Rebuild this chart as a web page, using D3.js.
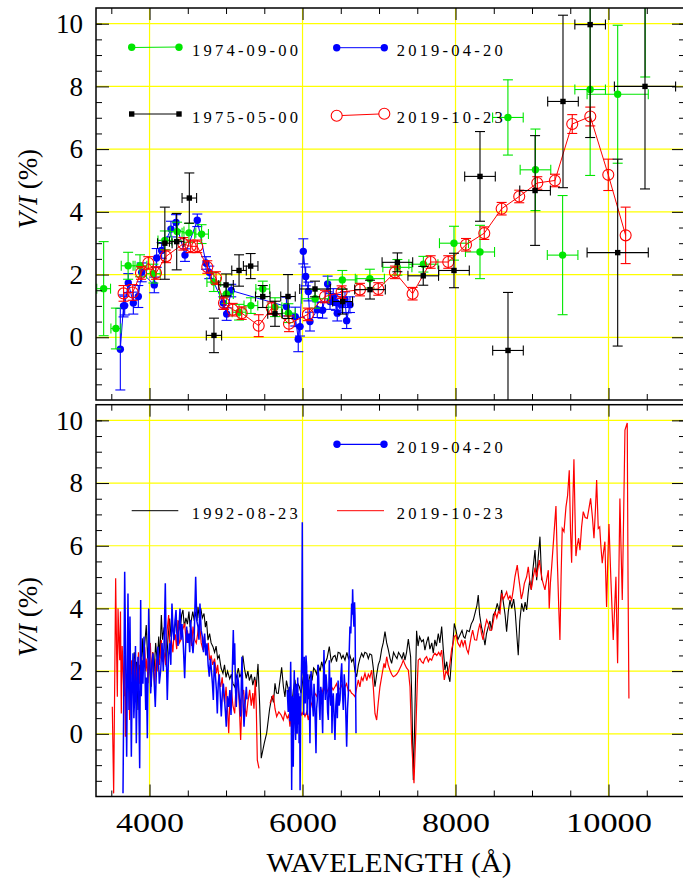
<!DOCTYPE html>
<html>
<head>
<meta charset="utf-8">
<script src="https://cdn.jsdelivr.net/npm/d3@7"></script>
<style>
  body { margin: 0; background: #fff; }
  svg { display: block; }
  text { font-family: 'Liberation Serif', serif; }
</style>
</head>
<body>
<script>

// ---- broadband points (top panel) ----
// 1974-09-00 : wavelength, V/I, err, half-width
var green1974 = [
  [3400, 1.55, 1.5, 90], [3560, 0.28, 0.65, 65], [3720, 2.28, 0.43, 90], [3875, 2.28, 0.35, 90],
  [4050, 2.03, 0.3, 90], [4200, 3.09, 0.3, 90], [4360, 3.37, 0.3, 90], [4515, 3.33, 0.3, 90],
  [4680, 3.29, 0.3, 90], [4840, 1.76, 0.3, 90], [5005, 1.38, 0.3, 90], [5170, 0.80, 0.25, 90],
  [5325, 1.01, 0.25, 90], [5480, 1.54, 0.25, 90], [5640, 0.96, 0.3, 90], [5815, 0.77, 0.3, 90],
  [6165, 1.23, 0.3, 175], [6520, 1.83, 0.3, 190], [6880, 1.87, 0.3, 190], [7240, 2.23, 0.25, 190],
  [7580, 2.33, 0.25, 190], [7980, 3.0, 0.54, 190], [8320, 2.72, 0.85, 190], [8685, 7.01, 1.2, 200],
  [9045, 5.34, 1.3, 200], [9400, 2.62, 1.9, 200], [9760, 7.9, 2.74, 200], [10120, 7.75, 2.2, 400],
  [10480, 11.5, 3.2, 400]
];

// 1975-05-00
var black1975 = [
  [4200, 3.0, 1.15, 95], [4355, 3.05, 0.9, 95], [4520, 4.44, 0.8, 95], [4842, 0.06, 0.55, 100],
  [5000, 1.67, 0.35, 95], [5170, 2.13, 0.5, 95], [5322, 2.27, 0.4, 95], [5480, 1.3, 0.35, 95],
  [5640, 0.75, 0.4, 95], [5810, 1.3, 0.7, 95], [6163, 1.54, 0.25, 200], [6524, 1.14, 0.4, 130],
  [6882, 1.52, 0.3, 200], [7240, 2.39, 0.3, 200], [7578, 1.96, 0.3, 200], [7980, 2.13, 0.55, 200],
  [8320, 5.13, 1.43, 200], [8686, -0.42, 1.85, 200], [9040, 4.68, 1.75, 200], [9405, 7.52, 2.75, 200],
  [9760, 9.97, 3.6, 200], [10120, 2.7, 2.98, 400], [10477, 8.0, 3.27, 400]
];

// 2019-04-20 : wavelength, V/I, err
var blue2019a = [
  [3618, -0.38, 1.3], [3660, 1.0, 0.35], [3675, 1.01, 0.3], [3722, 1.73, 0.3], [3788, 1.09, 0.35],
  [3853, 1.3, 0.35], [3897, 2.07, 0.3], [4062, 1.67, 0.25], [4093, 2.53, 0.3], [4158, 2.77, 0.25],
  [4280, 3.45, 0.25], [4346, 3.66, 0.25], [4463, 2.62, 0.2], [4624, 3.73, 0.2], [4738, 2.37, 0.2],
  [4781, 2.07, 0.2], [4964, 1.09, 0.2], [5008, 0.74, 0.2], [5068, 1.49, 0.2], [5790, 0.98, 0.3],
  [5905, 0.66, 0.3], [5944, -0.06, 0.4], [5967, 0.34, 0.3], [6010, 2.74, 0.4], [6041, 1.94, 0.3],
  [6076, 1.46, 0.3], [6097, 0.5, 0.3], [6193, 0.88, 0.25], [6262, 0.86, 0.25], [6328, 1.7, 0.25],
  [6359, 1.14, 0.25], [6402, 1.3, 0.25], [6437, 1.11, 0.25], [6454, 0.77, 0.25], [6503, 1.04, 0.25],
  [6555, 1.2, 0.25], [6577, 0.53, 0.25], [6620, 1.04, 0.25]
];

// 2019-10-23
var red2019b = [
  [3660, 1.4, 0.25], [3780, 1.43, 0.25], [3888, 2.05, 0.2], [3984, 2.37, 0.2], [4084, 2.05, 0.2],
  [4215, 2.58, 0.2], [4441, 2.98, 0.2], [4537, 2.9, 0.2], [4624, 2.9, 0.2], [4755, 2.24, 0.2],
  [4869, 1.89, 0.2], [4973, 1.09, 0.2], [5087, 0.88, 0.2], [5205, 0.77, 0.2], [5427, 0.37, 0.35],
  [5597, 0.93, 0.2], [5823, 0.43, 0.25], [6070, 0.73, 0.2], [6294, 1.3, 0.2], [6511, 1.44, 0.2],
  [6751, 1.52, 0.2], [6990, 1.54, 0.2], [7208, 2.07, 0.2], [7439, 1.39, 0.2], [7675, 2.4, 0.2],
  [7905, 2.4, 0.2], [8137, 2.95, 0.2], [8376, 3.32, 0.2], [8603, 4.1, 0.2], [8833, 4.49, 0.2],
  [9069, 4.92, 0.2], [9300, 5.0, 0.2], [9526, 6.8, 0.3], [9762, 7.04, 0.3], [9997, 5.18, 0.5],
  [10224, 3.25, 0.9]
];

// ---- spectra (bottom panel) ----
var spec1992 = [
  [3770,2.0],[3788,2.03],[3800,2.6],[3815,1.5],[3830,2.3],[3849,0.76],[3865,2.2],[3880,1.6],[3905,3.05],
  [3920,2.2],[3935,2.8],[3957,3.47],[3975,2.4],[3990,2.9],[4005,2.0],[4023,1.5],[4040,2.6],[4060,2.0],
  [4080,2.9],[4100,2.3],[4120,3.1],[4135,2.4],[4154,3.79],[4170,3.0],[4190,3.4],[4205,2.6],[4219,2.14],
  [4240,3.0],[4263,3.68],[4280,3.1],[4300,3.5],[4320,3.0],[4340,3.7],[4360,3.2],[4380,3.6],[4400,3.3],
  [4420,3.8],[4437,3.95],[4455,3.4],[4475,3.7],[4495,3.5],[4515,3.9],[4530,3.4],[4546,3.63],[4565,3.9],
  [4585,3.6],[4605,3.9],[4620,3.6],[4633,4.05],[4650,3.7],[4670,4.0],[4690,3.7],[4712,3.84],[4730,3.4],
  [4745,3.6],[4764,2.99],[4785,3.2],[4805,2.9],[4829,2.78],[4850,2.6],[4870,2.8],[4890,2.4],[4910,2.5],
  [4935,2.1],[4960,1.93],[4980,2.2],[5000,1.8],[5020,2.0],[5048,1.75],[5070,1.9],[5090,1.6],[5113,1.5],
  [5135,1.8],[5160,2.1],[5180,1.8],[5199,1.93],[5220,2.5],[5240,2.1],[5264,1.77],[5285,2.0],[5305,1.7],
  [5330,1.9],[5350,1.55],[5374,1.82],[5395,1.5],[5418,2.23],[5440,0.9],[5460,-0.78],[5500,-0.3],
  [5531,0.02],[5570,0.8],[5600,1.2],[5620,1.0],[5640,1.61],[5660,1.3],[5683,1.29],[5705,1.7],[5727,2.12],
  [5750,1.5],[5770,1.18],[5790,1.7],[5814,1.4],[5835,1.1],[5858,0.86],[5880,1.4],[5901,1.72],[5920,1.3],
  [5940,1.6],[5958,1.5],[5980,1.3],[6010,1.82],[6030,1.5],[6050,1.9],[6075,1.6],[6100,1.9],[6125,1.7],
  [6145,2.1],[6163,2.04],[6185,1.9],[6205,2.2],[6230,2.0],[6250,2.3],[6270,2.1],[6294,2.25],[6320,2.4],
  [6350,2.78],[6375,2.3],[6402,2.46],[6425,2.5],[6445,2.3],[6465,2.6],[6490,2.57],[6510,2.4],[6530,2.5],
  [6555,2.35],[6580,2.6],[6600,2.4],[6620,2.5],[6642,2.3],[6665,2.4],[6685,2.0],[6707,1.82],[6730,2.2],
  [6750,2.4],[6773,2.57],[6795,2.45],[6815,2.6],[6839,2.57],[6860,2.4],[6880,2.55],[6904,2.51],[6925,2.1],
  [6947,1.5],[6970,1.9],[6990,2.2],[7012,2.35],[7035,2.7],[7055,2.9],[7078,3.26],[7100,2.9],[7120,2.7],
  [7145,2.4],[7165,2.25],[7190,2.6],[7210,2.5],[7235,2.4],[7255,2.6],[7280,2.5],[7300,2.4],[7320,2.6],
  [7339,2.35],[7360,2.6],[7383,3.02],[7400,2.7],[7413,2.46],[7430,1.0],[7448,-1.47],[7465,0.2],[7478,1.8],
  [7491,3.29],[7510,2.8],[7530,3.1],[7557,2.94],[7580,3.0],[7600,2.67],[7620,2.9],[7644,3.1],[7665,2.7],
  [7690,2.9],[7709,2.57],[7730,3.0],[7750,2.8],[7775,3.2],[7795,2.9],[7819,3.42],[7840,2.7],[7862,2.04],
  [7885,2.3],[7905,1.88],[7927,1.66],[7945,2.3],[7962,2.78],[7984,3.52],[8006,3.3],[8030,3.0],[8058,3.15],
  [8085,3.3],[8105,3.1],[8124,3.05],[8150,3.3],[8180,3.26],[8205,3.5],[8232,3.63],[8260,3.9],[8280,4.1],
  [8297,4.43],[8315,3.8],[8340,3.4],[8360,3.2],[8385,2.83],[8405,3.2],[8429,3.42],[8450,3.6],[8470,3.3],
  [8494,3.79],[8520,3.9],[8546,4.16],[8570,3.9],[8590,4.3],[8603,4.59],[8625,4.2],[8648,3.8],[8668,3.26],
  [8690,3.9],[8712,4.27],[8735,4.0],[8760,4.3],[8780,3.9],[8800,3.2],[8820,2.51],[8840,3.6],[8865,4.16],
  [8890,3.9],[8910,4.2],[8930,3.95],[8950,4.5],[8970,4.9],[8990,4.6],[9010,5.2],[9039,5.86],[9061,4.9],
  [9080,5.6],[9104,6.29],[9126,4.9]
];

var spec2019b = [
  [3513,0.86],[3531,-1.9],[3557,4.96],[3570,2.5],[3579,1.18],[3588,4.0],[3600,3.0],[3610,2.35],[3620,3.9],
  [3631,0.65],[3642,2.8],[3653,2.14],[3665,1.2],[3675,2.5],[3684,-0.09],[3696,1.4],[3709,1.82],[3722,2.6],
  [3740,0.44],[3750,1.7],[3762,2.35],[3778,1.5],[3797,1.08],[3810,2.4],[3827,2.03],[3840,1.4],[3855,2.6],
  [3870,1.6],[3893,2.46],[3910,1.9],[3925,2.3],[3937,2.78],[3950,2.0],[3965,2.4],[3980,1.61],[3995,2.5],
  [4010,2.9],[4025,2.0],[4045,2.6],[4067,1.5],[4085,2.4],[4100,2.0],[4110,2.57],[4130,2.2],[4154,2.99],
  [4170,2.3],[4190,2.6],[4210,2.2],[4230,3.3],[4250,3.79],[4265,2.8],[4285,3.0],[4305,2.6],[4320,3.2],
  [4337,3.15],[4355,2.7],[4372,3.63],[4390,2.9],[4410,3.0],[4430,3.3],[4459,3.52],[4480,2.9],[4495,3.3],
  [4511,2.99],[4530,3.2],[4550,2.8],[4568,3.42],[4590,3.0],[4611,2.89],[4635,3.3],[4655,3.52],[4675,2.9],
  [4699,2.67],[4715,3.1],[4730,2.8],[4750,2.5],[4768,2.9],[4786,2.35],[4805,2.5],[4825,2.2],[4850,2.4],
  [4873,1.93],[4890,2.2],[4910,1.7],[4930,1.5],[4950,1.8],[4965,1.3],[4982,0.97],[5000,1.5],[5015,1.0],
  [5035,0.02],[5050,1.1],[5070,1.4],[5090,0.9],[5113,0.65],[5130,1.5],[5150,1.72],[5170,1.1],[5191,-0.2],
  [5210,1.2],[5230,1.4],[5245,0.9],[5265,0.55],[5285,1.0],[5309,1.4],[5330,0.9],[5350,1.3],[5365,0.8],
  [5382,1.72],[5395,0.9],[5409,-0.84],[5431,-1.1],[5500,null],[5575,0.97],[5595,1.1],[5618,1.24],
  [5640,0.8],[5662,0.55],[5690,0.7],[5720,0.6],[5749,0.44],[5770,0.7],[5800,0.5],[5820,0.6],[5836,0.23],
  [5858,0.7],[5879,0.55],[5900,0.4],[5923,0.18],[5945,0.6],[5967,0.76],[5990,0.6],[6010,0.7],[6032,0.55],
  [6055,0.7],[6076,0.44],[6097,0.75],[6119,0.97],[6140,1.1],[6163,1.29],[6185,1.2],[6205,1.35],[6228,1.34],
  [6250,1.25],[6270,1.45],[6294,1.4],[6315,1.3],[6340,1.45],[6359,1.29],[6380,1.5],[6400,1.4],[6424,1.5],
  [6445,1.6],[6465,1.4],[6490,1.45],[6510,1.55],[6530,1.4],[6555,1.5],[6575,1.6],[6600,1.35],[6620,1.4],
  [6640,1.3],[6665,1.25],[6686,1.18],[6710,1.5],[6729,1.72],[6750,1.5],[6770,1.8],[6790,1.7],[6816,1.93],
  [6840,1.7],[6860,1.9],[6880,1.8],[6904,2.03],[6925,1.5],[6947,0.65],[6969,0.44],[6990,1.0],[7012,1.5],
  [7040,1.9],[7065,2.25],[7080,2.1],[7100,2.46],[7120,2.2],[7143,2.03],[7165,1.9],[7187,1.82],[7210,1.85],
  [7230,1.9],[7252,1.98],[7275,2.1],[7295,2.2],[7317,2.35],[7340,2.2],[7360,2.1],[7383,2.03],[7405,1.5],
  [7427,-0.3],[7457,-1.58],[7483,0.23],[7500,1.6],[7513,2.35],[7535,2.4],[7555,2.3],[7578,2.25],[7600,2.4],
  [7622,2.46],[7645,2.3],[7665,2.4],[7688,2.35],[7710,2.5],[7731,2.57],[7755,2.5],[7780,2.6],[7800,2.5],
  [7819,2.67],[7835,2.2],[7853,1.72],[7875,2.0],[7900,1.9],[7927,2.25],[7950,2.7],[7970,2.9],[7984,3.1],
  [8006,3.15],[8030,2.9],[8058,2.78],[8080,3.0],[8100,2.8],[8124,2.99],[8145,2.7],[8167,2.57],[8190,2.9],
  [8205,3.1],[8224,3.31],[8250,3.0],[8276,2.99],[8298,3.3],[8320,3.52],[8340,3.2],[8360,3.0],[8385,3.4],
  [8407,3.63],[8430,3.5],[8450,3.3],[8472,3.31],[8495,3.6],[8516,3.9],[8540,3.7],[8560,3.9],[8581,3.84],
  [8603,4.48],[8625,4.3],[8645,4.4],[8668,4.53],[8690,4.3],[8712,4.4],[8734,4.27],[8755,4.6],[8777,5.01],
  [8807,5.38],[8825,5.0],[8842,4.69],[8860,4.3],[8880,4.5],[8900,4.8],[8930,5.01],[8951,5.33],[8970,4.9],
  [8990,4.6],[9017,5.01],[9040,5.3],[9060,5.0],[9095,5.54],[9115,5.2],[9134,4.9],[9169,4.59],[9190,4.9],
  [9213,5.22],[9225,4.0],[9240,4.8],[9257,5.33],[9285,6.3],[9313,7.27],[9330,5.6],[9350,4.0],[9365,2.99],
  [9380,5.0],[9395,6.55],[9418,6.45],[9444,7.24],[9465,7.6],[9487,8.41],[9503,6.5],[9518,5.46],[9535,7.5],
  [9548,8.76],[9562,7.0],[9574,5.67],[9590,6.0],[9609,6.24],[9627,5.86],[9648,6.6],[9670,7.09],[9695,6.9],
  [9722,6.87],[9745,7.2],[9766,7.51],[9790,6.9],[9810,6.24],[9830,7.2],[9845,8.1],[9866,6.55],[9885,6.6],
  [9900,6.0],[9918,5.44],[9935,5.8],[9953,6.13],[9962,5.2],[9975,4.05],[9990,5.5],[10006,6.69],[10030,5.0],
  [10062,2.99],[10080,4.0],[10097,5.01],[10108,3.5],[10119,2.25],[10135,5.0],[10149,7.51],[10163,6.0],
  [10180,4.27],[10198,7.0],[10215,9.69],[10245,9.92],[10255,5.0],[10267,1.13]
];

var spec2019a = [
  [3653,-1.9],[3664,1.5],[3675,5.17],[3688,2.35],[3701,-0.73],[3710,2.0],[3718,4.48],[3731,0.76],[3744,3.74],
  [3753,1.5],[3762,-0.73],[3773,1.8],[3784,2.57],[3795,0.5],[3806,1.29],[3816,2.8],[3827,-0.3],[3838,1.5],
  [3849,2.46],[3860,1.0],[3871,-1.1],[3884,4.27],[3892,1.2],[3901,2.35],[3914,1.6],[3927,3.1],[3938,2.2],
  [3950,0.76],[3960,1.8],[3971,-0.14],[3980,1.9],[3989,4.0],[4002,2.6],[4015,1.29],[4030,2.2],[4045,2.57],
  [4060,1.7],[4075,0.86],[4092,2.2],[4110,2.78],[4128,1.6],[4146,2.03],[4163,2.9],[4180,2.0],[4193,3.2],
  [4206,4.8],[4220,2.4],[4232,1.08],[4248,2.5],[4263,2.89],[4278,2.2],[4293,4.16],[4307,3.3],[4320,2.99],
  [4333,3.6],[4346,3.95],[4360,3.1],[4372,2.8],[4385,3.4],[4398,4.0],[4411,3.0],[4424,3.5],[4440,2.9],
  [4459,1.77],[4472,2.8],[4485,3.42],[4500,2.9],[4512,3.2],[4525,2.6],[4537,3.63],[4552,3.0],[4568,2.57],
  [4585,3.2],[4603,5.01],[4618,3.6],[4633,3.42],[4646,3.0],[4659,4.16],[4675,3.3],[4690,3.1],[4705,2.6],
  [4720,3.2],[4735,2.5],[4751,2.89],[4766,2.2],[4781,1.82],[4796,2.4],[4810,2.0],[4822,1.6],[4834,1.08],
  [4846,2.3],[4860,1.9],[4874,1.4],[4886,0.65],[4898,1.6],[4912,1.9],[4925,1.2],[4938,0.55],[4952,1.3],
  [4965,1.6],[4980,1.1],[4992,0.7],[5003,0.23],[5018,1.2],[5035,0.86],[5050,1.4],[5065,0.6],[5080,1.8],
  [5095,3.31],[5104,2.2],[5113,2.89],[5124,1.4],[5134,0.86],[5148,1.9],[5160,1.7],[5175,1.1],[5191,0.55],
  [5200,1.6],[5208,2.46],[5220,1.2],[5235,0.23],[5250,1.0],[5265,1.5],[5275,1.1],[5500,null],
  [5800,1.4],[5813,0.7],[5827,1.5],[5836,0.4],[5845,2.3],[5852,0.8],[5858,-1.79],[5865,1.2],[5871,0.76],
  [5879,-1.05],[5885,1.0],[5892,2.03],[5900,0.5],[5910,-0.2],[5917,1.6],[5923,0.86],[5930,0.0],[5937,1.8],
  [5943,0.3],[5949,1.29],[5955,-0.3],[5962,1.2],[5968,-1.8],[5975,0.55],[5982,1.5],[5989,2.46],[5997,6.75],
  [6003,2.0],[6010,1.82],[6016,0.6],[6023,2.46],[6030,1.2],[6036,0.97],[6045,2.5],[6054,2.14],[6060,0.6],
  [6068,1.9],[6076,1.1],[6084,1.72],[6090,0.8],[6097,-0.3],[6105,1.3],[6112,2.0],[6119,1.5],[6130,1.0],
  [6141,0.55],[6150,1.6],[6158,1.2],[6168,0.2],[6176,-0.62],[6184,0.8],[6193,1.08],[6202,2.2],[6211,1.82],
  [6219,0.9],[6228,0.44],[6238,1.5],[6250,1.29],[6256,0.6],[6263,0.02],[6270,1.2],[6280,2.67],[6289,1.6],
  [6298,1.08],[6307,1.9],[6318,1.5],[6328,0.7],[6337,0.44],[6344,1.4],[6350,2.35],[6360,1.3],[6368,0.9],
  [6376,1.8],[6385,0.02],[6393,1.0],[6402,1.29],[6412,0.6],[6424,-0.2],[6435,0.9],[6446,1.29],[6455,0.5],
  [6465,1.7],[6478,0.9],[6490,1.08],[6500,1.8],[6512,2.25],[6522,1.3],[6533,0.76],[6545,1.9],[6555,1.5],
  [6566,0.6],[6577,-0.41],[6588,0.8],[6599,1.29],[6610,2.6],[6620,3.42],[6631,3.2],[6642,4.16],[6650,3.8],
  [6655,4.61],[6662,3.9],[6672,3.42],[6680,4.2],[6686,3.74],[6692,2.0],[6699,0.02]
];

// axis ticks
var xMajor = [4000, 6000, 8000, 10000];
var xMinor = [3500, 4500, 5000, 5500, 6500, 7000, 7500, 8500, 9000, 9500, 10500];
var yMajor = [0, 2, 4, 6, 8, 10];
var yMinor = [-1.5, -1, -0.5, 0.5, 1, 1.5, 2.5, 3, 3.5, 4.5, 5, 5.5, 6.5, 7, 7.5, 8.5, 9, 9.5, 10];

var W = 683, H = 879;
var L = 96, R = 685;
var FONT = "'Liberation Serif', serif";
var GREEN = "#00e600", BLUE = "#0000ff", RED = "#ff0000";

var svg = d3.select("body").append("svg")
  .attr("width", W)
  .attr("height", H);

var x = d3.scaleLinear().domain([3300, 11000]).range([L, R]);
var yTop = d3.scaleLinear().domain([-2, 10.5]).range([400, 8]);
var yBot = d3.scaleLinear().domain([-2, 10.5]).range([796.5, 404.7]);

function grid(y, id) {
  var t = y.range()[1], b = y.range()[0];
  var g = svg.append("g");
  g.selectAll("line.h").data(yMajor).enter().append("line")
    .attr("x1", L).attr("x2", R)
    .attr("y1", function(d) { return y(d); })
    .attr("y2", function(d) { return y(d); })
    .attr("stroke", "#ffff00").attr("stroke-width", 1.2);
  g.selectAll("line.v").data(xMajor).enter().append("line")
    .attr("x1", function(d) { return x(d); })
    .attr("x2", function(d) { return x(d); })
    .attr("y1", t).attr("y2", b)
    .attr("stroke", "#ffff00").attr("stroke-width", 1.2);

  svg.append("clipPath").attr("id", id)
    .append("rect").attr("x", L).attr("y", t).attr("width", R - L).attr("height", b - t);
}

function axes(y, labels) {
  var t = y.range()[1], b = y.range()[0];
  var sets = [
    [d3.axisLeft(y).tickValues(yMajor).tickSize(-13).tickPadding(13).tickFormat(d3.format("d")), L, 0],
    [d3.axisLeft(y).tickValues(yMinor).tickSize(-6).tickFormat(""), L, 0],
    [d3.axisRight(y).tickValues(yMajor).tickSize(-13).tickFormat(""), R, 0],
    [d3.axisRight(y).tickValues(yMinor).tickSize(-6).tickFormat(""), R, 0],
    [d3.axisTop(x).tickValues(xMajor).tickSize(-12).tickFormat(""), 0, t],
    [d3.axisTop(x).tickValues(xMinor).tickSize(-6).tickFormat(""), 0, t],
    [d3.axisBottom(x).tickValues(xMajor).tickSize(-12).tickPadding(16)
      .tickFormat(labels ? d3.format("d") : ""), 0, b],
    [d3.axisBottom(x).tickValues(xMinor).tickSize(-6).tickFormat(""), 0, b]
  ];
  sets.forEach(function(s) {
    var g = svg.append("g")
      .attr("transform", "translate(" + s[1] + "," + s[2] + ")")
      .call(s[0]);
    g.select(".domain").remove();
    g.selectAll(".tick line").attr("stroke", "#000").attr("stroke-width", 1);
    g.selectAll(".tick text")
      .style("font-family", FONT)
      .style("font-size", "27px")
      .attr("fill", "#000");
  });
  svg.append("rect")
    .attr("x", L).attr("y", t).attr("width", R - L).attr("height", b - t)
    .attr("fill", "none").attr("stroke", "#000").attr("stroke-width", 1.5);
}

// error bars: vertical (+caps) and optional horizontal (+caps)
function errbars(g, data, y, color, withX) {
  var cap = 5;
  data.forEach(function(d) {
    var cx = x(d[0]), cy = y(d[1]), y1 = y(d[1] + d[2]), y2 = y(d[1] - d[2]);
    g.append("line").attr("x1", cx).attr("x2", cx).attr("y1", y1).attr("y2", y2);
    g.append("line").attr("x1", cx - cap).attr("x2", cx + cap).attr("y1", y1).attr("y2", y1);
    g.append("line").attr("x1", cx - cap).attr("x2", cx + cap).attr("y1", y2).attr("y2", y2);
    if (withX) {
      var x1 = x(d[0] - d[3]), x2 = x(d[0] + d[3]);
      g.append("line").attr("x1", x1).attr("x2", x2).attr("y1", cy).attr("y2", cy);
      g.append("line").attr("x1", x1).attr("x2", x1).attr("y1", cy - cap).attr("y2", cy + cap);
      g.append("line").attr("x1", x2).attr("x2", x2).attr("y1", cy - cap).attr("y2", cy + cap);
    }
  });
  g.attr("stroke", color).attr("stroke-width", 1.1);
}

// ---------------- top panel ----------------
grid(yTop, "clipTop");
var gTop = svg.append("g").attr("clip-path", "url(#clipTop)");

var lineTop = d3.line()
  .x(function(d) { return x(d[0]); })
  .y(function(d) { return yTop(d[1]); });

// blue
errbars(gTop.append("g"), blue2019a, yTop, BLUE, false);
gTop.append("path").datum(blue2019a).attr("d", lineTop)
  .attr("fill", "none").attr("stroke", BLUE).attr("stroke-width", 1);
gTop.selectAll("circle.b").data(blue2019a).enter().append("circle")
  .attr("cx", function(d) { return x(d[0]); })
  .attr("cy", function(d) { return yTop(d[1]); })
  .attr("r", 3.7).attr("fill", BLUE);

// green
errbars(gTop.append("g"), green1974, yTop, GREEN, true);
gTop.selectAll("circle.g").data(green1974).enter().append("circle")
  .attr("cx", function(d) { return x(d[0]); })
  .attr("cy", function(d) { return yTop(d[1]); })
  .attr("r", 3.7).attr("fill", GREEN);

// red
errbars(gTop.append("g"), red2019b, yTop, RED, false);
gTop.append("path").datum(red2019b).attr("d", lineTop)
  .attr("fill", "none").attr("stroke", RED).attr("stroke-width", 1);
gTop.selectAll("circle.r").data(red2019b).enter().append("circle")
  .attr("cx", function(d) { return x(d[0]); })
  .attr("cy", function(d) { return yTop(d[1]); })
  .attr("r", 5.5).attr("fill", "none").attr("stroke", RED).attr("stroke-width", 1.1);

// black
errbars(gTop.append("g"), black1975, yTop, "#000", true);
gTop.selectAll("rect.k").data(black1975).enter().append("rect")
  .attr("x", function(d) { return x(d[0]) - 2.7; })
  .attr("y", function(d) { return yTop(d[1]) - 2.7; })
  .attr("width", 5.4).attr("height", 5.4).attr("fill", "#000");

axes(yTop, false);

// legends
function legendText(tx, ty, s) {
  svg.append("text").attr("x", tx).attr("y", ty)
    .style("font-family", FONT).style("font-size", "16.5px")
    .attr("textLength", 106).attr("lengthAdjust", "spacing")
    .text(s);
}
svg.append("line").attr("x1", 131.7).attr("x2", 179).attr("y1", 47.5).attr("y2", 47)
  .attr("stroke", GREEN).attr("stroke-width", 1);
svg.selectAll("circle.lg").data([131.7, 179]).enter().append("circle")
  .attr("cx", function(d) { return d; }).attr("cy", 47.2).attr("r", 3.7).attr("fill", GREEN);
legendText(192, 56, "1974-09-00");

svg.append("line").attr("x1", 131.7).attr("x2", 179).attr("y1", 114).attr("y2", 114)
  .attr("stroke", "#000").attr("stroke-width", 1);
svg.selectAll("rect.lk").data([131.7, 179]).enter().append("rect")
  .attr("x", function(d) { return d - 2.7; }).attr("y", 111.3)
  .attr("width", 5.4).attr("height", 5.4).attr("fill", "#000");
legendText(192, 122.5, "1975-05-00");

svg.append("line").attr("x1", 336.7).attr("x2", 384.3).attr("y1", 47.7).attr("y2", 47.7)
  .attr("stroke", BLUE).attr("stroke-width", 1);
svg.selectAll("circle.lb").data([336.7, 384.3]).enter().append("circle")
  .attr("cx", function(d) { return d; }).attr("cy", 47.7).attr("r", 3.7).attr("fill", BLUE);
legendText(396.7, 56, "2019-04-20");

svg.append("line").attr("x1", 342).attr("x2", 379).attr("y1", 115.5).attr("y2", 114)
  .attr("stroke", RED).attr("stroke-width", 1);
svg.selectAll("circle.lr").data([[336.7, 115.8], [384.3, 113.8]]).enter().append("circle")
  .attr("cx", function(d) { return d[0]; }).attr("cy", function(d) { return d[1]; })
  .attr("r", 5.5).attr("fill", "none").attr("stroke", RED).attr("stroke-width", 1.1);
legendText(396.7, 122.5, "2019-10-23");

// ---------------- bottom panel ----------------
grid(yBot, "clipBot");
var gBot = svg.append("g").attr("clip-path", "url(#clipBot)");

var lineBot = d3.line()
  .defined(function(d) { return d[1] !== null; })
  .x(function(d) { return x(d[0]); })
  .y(function(d) { return yBot(d[1]); });

gBot.append("path").datum(spec1992).attr("d", lineBot)
  .attr("fill", "none").attr("stroke", "#000").attr("stroke-width", 1.1);
gBot.append("path").datum(spec2019b).attr("d", lineBot)
  .attr("fill", "none").attr("stroke", RED).attr("stroke-width", 1.2);
gBot.append("path").datum(spec2019a).attr("d", lineBot)
  .attr("fill", "none").attr("stroke", BLUE).attr("stroke-width", 1.5);

axes(yBot, true);

svg.append("line").attr("x1", 337).attr("x2", 384).attr("y1", 444.3).attr("y2", 444.3)
  .attr("stroke", BLUE).attr("stroke-width", 1.2);
svg.selectAll("circle.lb2").data([337, 384]).enter().append("circle")
  .attr("cx", function(d) { return d; }).attr("cy", 444.3).attr("r", 3.7).attr("fill", BLUE);
legendText(396.7, 453.3, "2019-04-20");

svg.append("line").attr("x1", 131.7).attr("x2", 178.3).attr("y1", 510.7).attr("y2", 510.7)
  .attr("stroke", "#000").attr("stroke-width", 1);
legendText(191.7, 519.3, "1992-08-23");

svg.append("line").attr("x1", 337).attr("x2", 384).attr("y1", 510.7).attr("y2", 510.7)
  .attr("stroke", RED).attr("stroke-width", 1);
legendText(396.7, 519.3, "2019-10-23");

// x tick labels a bit wider like the original lettering
svg.selectAll(".tick text").filter(function() { return this.textContent.length === 4; })
  .attr("textLength", 68).attr("lengthAdjust", "spacingAndGlyphs");
svg.selectAll(".tick text").filter(function() { return this.textContent.length === 5; })
  .attr("textLength", 86).attr("lengthAdjust", "spacingAndGlyphs");

// axis titles
svg.append("text")
  .attr("x", 389).attr("y", 872)
  .attr("text-anchor", "middle")
  .style("font-family", FONT).style("font-size", "28px")
  .attr("textLength", 245).attr("lengthAdjust", "spacingAndGlyphs")
  .text("WAVELENGTH (Å)");

[189, 617].forEach(function(cy) {
  var t = svg.append("text")
    .attr("transform", "translate(37," + cy + ") rotate(-90)")
    .attr("text-anchor", "middle")
    .style("font-family", FONT).style("font-size", "27px");
  t.append("tspan").style("font-style", "italic").text("V/I");
  t.append("tspan").text(" (%)");
});

</script>
</body>
</html>
